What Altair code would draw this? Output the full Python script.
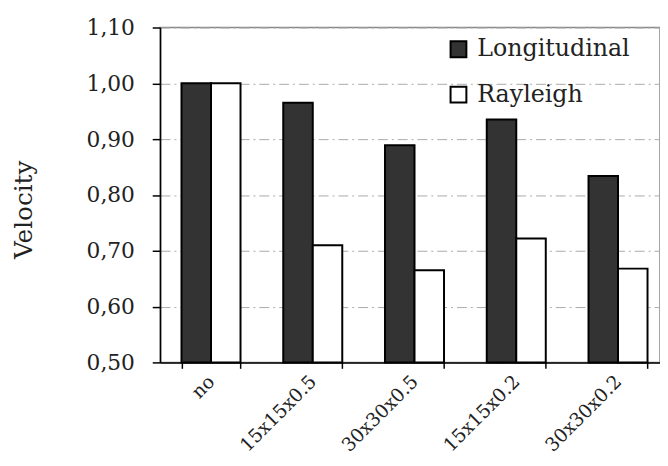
import altair as alt
import pandas as pd

categories = ["no", "15x15x0.5", "30x30x0.5", "15x15x0.2", "30x30x0.2"]
longitudinal = [1.00, 0.965, 0.889, 0.935, 0.834]
rayleigh = [1.00, 0.710, 0.665, 0.722, 0.668]
series = ["Longitudinal", "Rayleigh"]
y_ticks = [0.5, 0.6, 0.7, 0.8, 0.9, 1.0, 1.1]
y_min = 0.5

rows = []
for c, l, r in zip(categories, longitudinal, rayleigh):
    rows.append({"cat": c, "series": "Longitudinal", "v": l})
    rows.append({"cat": c, "series": "Rayleigh", "v": r})
df = pd.DataFrame(rows)

FONT = "DejaVu Serif"

chart = alt.Chart(df).mark_bar(stroke="black", strokeWidth=2).encode(
    x=alt.X("cat:N", sort=categories, title=None,
            scale=alt.Scale(paddingInner=0.42, paddingOuter=0.21, range=[0, 515]),
            axis=alt.Axis(labelAngle=-45, labelAlign="right", labelBaseline="middle",
                          labelFontSize=19, labelFont=FONT, labelColor="#222",
                          domainColor="black", domainWidth=1.5, tickColor="black",
                          tickWidth=1.5, tickSize=6, tickBand="extent",
                          labelPadding=10, grid=False)),
    xOffset=alt.XOffset("series:N", sort=series),
    y=alt.Y("v:Q", title="Velocity",
            scale=alt.Scale(domain=[0.5, 1.1], nice=False, zero=False),
            axis=alt.Axis(values=y_ticks,
                          labelExpr="replace(format(datum.value, '.2f'), '.', ',')",
                          labelFontSize=22, labelFont=FONT, labelColor="#222",
                          labelPadding=18, tickSize=8, tickColor="black", tickWidth=1.5,
                          domainColor="black", domainWidth=1.5,
                          grid=True, gridColor="#aaaaaa", gridDash=[10, 4, 2, 4],
                          gridWidth=1, titleFont=FONT, titleFontSize=25,
                          titleFontWeight="normal", titleColor="#222", titlePadding=50,
                          titleY=184)),
    y2=alt.Y2(datum=y_min),
    color=alt.Color("series:N", sort=series,
                    scale=alt.Scale(domain=series, range=["#333333", "#ffffff"]),
                    legend=alt.Legend(title=None, orient="none", legendX=290, legendY=10,
                                      symbolType="square", symbolSize=256,
                                      symbolStrokeColor="black", symbolStrokeWidth=2,
                                      labelFont=FONT, labelFontSize=24, labelColor="#222",
                                      labelOffset=7, rowPadding=22)),
).properties(
    width=506, height=339,
    autosize=alt.AutoSizeParams(type="none"),
    padding={"left": 154, "top": 17, "right": 0, "bottom": 92},
).configure_view(
    stroke="#888888", strokeWidth=1.5
).configure_axis(titleFont=FONT)

chart.save("out.html", embed_options={"renderer": "svg", "actions": False})
